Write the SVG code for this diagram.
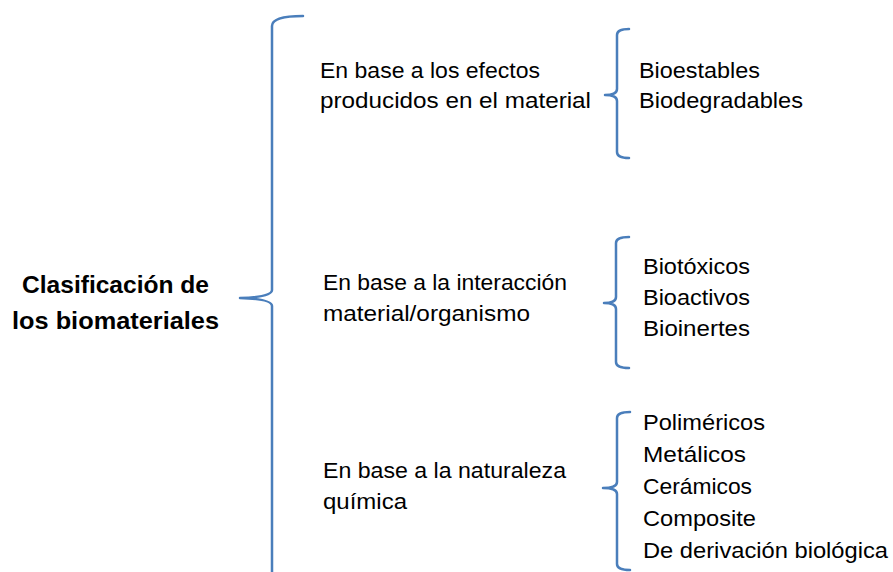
<svg xmlns="http://www.w3.org/2000/svg" width="893" height="572" viewBox="0 0 893 572">
<style>
.t{font-family:"Liberation Sans",Arial,sans-serif;font-size:22px;fill:#000}
.b{font-family:"Liberation Sans",Arial,sans-serif;font-size:24px;font-weight:bold;fill:#000}
.br{fill:none;stroke:#4a7ebb;stroke-width:2.5;stroke-linecap:round;stroke-linejoin:round}
</style>
<rect width="893" height="572" fill="#fff"/>
<g id="connectors">
<path class="br" d="M303,16 Q272,16 272,26 L272,290 Q272,297 240,298 Q272,299 272,306 L272,574"/>
<path class="br" d="M629,29 Q617,29 617,35 L617,89 Q617,95 605,95 Q617,95 617,101 L617,152 Q617,158 629,158"/>
<path class="br" d="M629,237 Q616,237 616,243 L616,297 Q616,303 604,303 Q616,303 616,309 L616,362 Q616,368 629,368"/>
<path class="br" d="M630,412 Q617,412 617,418 L617,482 Q617,488 603,488 Q617,488 617,494 L617,564 Q617,570 630,570"/>
</g>
<g id="root">
<text class="b" x="22" y="293" textLength="187" lengthAdjust="spacingAndGlyphs">Clasificación de</text>
<text class="b" x="12" y="329" textLength="207" lengthAdjust="spacingAndGlyphs">los biomateriales</text>
</g>
<g id="efectos">
<text class="t" x="320" y="78" textLength="220" lengthAdjust="spacingAndGlyphs">En base a los efectos</text>
<text class="t" x="320" y="108" textLength="271" lengthAdjust="spacingAndGlyphs">producidos en el material</text>
</g>
<g id="efectos-items">
<text class="t" x="639" y="78" textLength="121" lengthAdjust="spacingAndGlyphs">Bioestables</text>
<text class="t" x="639" y="108" textLength="164" lengthAdjust="spacingAndGlyphs">Biodegradables</text>
</g>
<g id="interaccion">
<text class="t" x="323" y="290" textLength="244" lengthAdjust="spacingAndGlyphs">En base a la interacción</text>
<text class="t" x="323" y="321" textLength="207" lengthAdjust="spacingAndGlyphs">material/organismo</text>
</g>
<g id="interaccion-items">
<text class="t" x="643" y="274" textLength="107" lengthAdjust="spacingAndGlyphs">Biotóxicos</text>
<text class="t" x="643" y="305" textLength="107" lengthAdjust="spacingAndGlyphs">Bioactivos</text>
<text class="t" x="643" y="336" textLength="107" lengthAdjust="spacingAndGlyphs">Bioinertes</text>
</g>
<g id="naturaleza">
<text class="t" x="323" y="478" textLength="243" lengthAdjust="spacingAndGlyphs">En base a la naturaleza</text>
<text class="t" x="323" y="509" textLength="84" lengthAdjust="spacingAndGlyphs">química</text>
</g>
<g id="naturaleza-items">
<text class="t" x="643" y="430" textLength="122" lengthAdjust="spacingAndGlyphs">Poliméricos</text>
<text class="t" x="643" y="462" textLength="103" lengthAdjust="spacingAndGlyphs">Metálicos</text>
<text class="t" x="643" y="494" textLength="109" lengthAdjust="spacingAndGlyphs">Cerámicos</text>
<text class="t" x="643" y="526" textLength="113" lengthAdjust="spacingAndGlyphs">Composite</text>
<text class="t" x="643" y="558" textLength="245" lengthAdjust="spacingAndGlyphs">De derivación biológica</text>
</g>
</svg>
